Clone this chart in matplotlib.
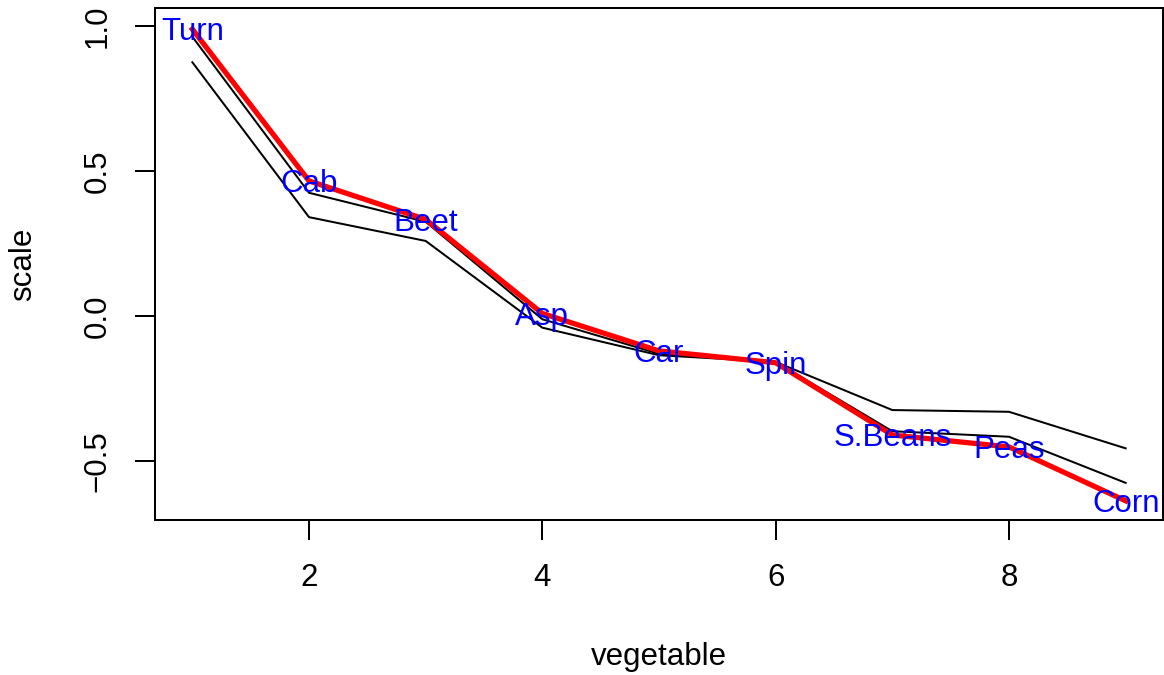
import matplotlib
matplotlib.use("Agg")
import matplotlib.pyplot as plt
import numpy as np

plt.rcParams['font.family'] = ['Liberation Sans', 'DejaVu Sans']

vegetable = [1, 2, 3, 4, 5, 6, 7, 8, 9]
names = ["Turn", "Cab", "Beet", "Asp", "Car", "Spin", "S.Beans", "Peas", "Corn"]
scale_red = [0.989, 0.466, 0.333, 0.009, -0.120, -0.161, -0.410, -0.451, -0.637]
scale_b1 = [0.963, 0.425, 0.325, -0.011, -0.130, -0.158, -0.397, -0.416, -0.575]
scale_b2 = [0.875, 0.341, 0.259, -0.040, -0.135, -0.158, -0.324, -0.330, -0.456]

fs = 12.5
fig = plt.figure(figsize=(1164 / 180, 675 / 180), dpi=180)
ax = fig.add_axes([155 / 1164, 1 - 520 / 675, 1008 / 1164, 512 / 675])

ax.plot(vegetable, scale_b2, color="black", lw=0.8)
ax.plot(vegetable, scale_b1, color="black", lw=0.8)
ax.plot(vegetable, scale_red, color="red", lw=2.1)
for x, y, s in zip(vegetable, scale_red, names):
    ax.annotate(s, (x, y), xytext=(0, -0.36 * fs), textcoords="offset points",
                ha="center", va="baseline", color="blue", fontsize=fs)

ax.set_xlim(0.68, 9.32)
ax.set_ylim(-0.703, 1.062)
ax.set_xticks([2, 4, 6, 8])
ax.set_yticks([-0.5, 0.0, 0.5, 1.0])
ax.set_yticklabels(["\u22120.5", "0.0", "0.5", "1.0"], rotation=90, va="center")
ax.tick_params(axis="both", length=8, width=0.8, labelsize=fs, pad=9)
for sp in ax.spines.values():
    sp.set_linewidth(0.8)

ax.set_xlabel("vegetable", fontsize=fs)
ax.set_ylabel("scale", fontsize=fs)
ax.xaxis.set_label_coords(0.5, (520 - 657) / 512)
ax.yaxis.set_label_coords((23 - 155) / 1008, 0.5)
ax.xaxis.label.set_va("center")
ax.yaxis.label.set_va("center")

fig.savefig("out.png", dpi=180)
